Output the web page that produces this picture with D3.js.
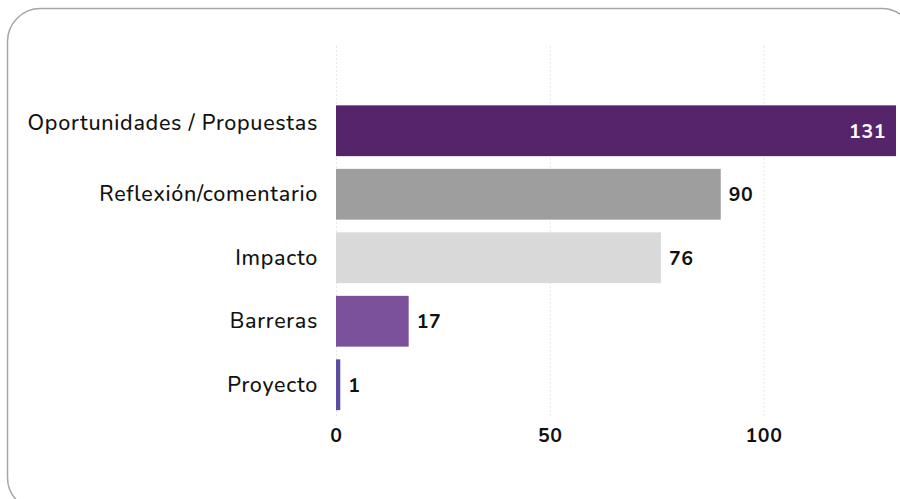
<!DOCTYPE html>
<html>
<head>
<meta charset="utf-8">
<script src="https://cdn.jsdelivr.net/npm/d3@7"></script>
<style>
  body { margin: 0; background: #fff; }
  svg { display: block; font-family: "Nunito", "Open Sans", sans-serif; }
</style>
</head>
<body>
<svg id="chart" width="900" height="499"></svg>
<script>
// data
const categories = ["Oportunidades / Propuestas", "Reflexión/comentario", "Impacto", "Barreras", "Proyecto"];
const values = [131, 90, 76, 17, 1];
const colors = ["#56246b", "#9e9e9e", "#d9d9d9", "#7b519c", "#5b4ea2"];
const xTicks = [0, 50, 100];

const font = "\"Nunito\", \"Open Sans\", sans-serif";
const svg = d3.select("#chart");

// rounded frame
svg.append("rect")
    .attr("x", 7.5)
    .attr("y", 8.5)
    .attr("width", 907)
    .attr("height", 502)
    .attr("rx", 33)
    .attr("fill", "none")
    .attr("stroke", "#a6a6a6")
    .attr("stroke-width", 1.5);

const x = d3.scaleLinear()
    .domain([0, 131])
    .range([336, 896]);

const y = d3.scaleBand()
    .domain(categories)
    .range([99, 416.5])
    .paddingInner(0.2)
    .paddingOuter(0.1);

// gridlines
svg.append("g")
    .selectAll("line")
    .data(xTicks)
    .enter()
    .append("line")
    .attr("x1", d => x(d) + 0.5)
    .attr("x2", d => x(d) + 0.5)
    .attr("y1", 46)
    .attr("y2", 418)
    .attr("stroke", "#e6e6e6")
    .attr("stroke-width", 1)
    .attr("stroke-dasharray", "2,2");

// bars
svg.append("g")
    .selectAll("rect")
    .data(values)
    .enter()
    .append("rect")
    .attr("x", x(0))
    .attr("y", (d, i) => y(categories[i]))
    .attr("width", d => x(d) - x(0))
    .attr("height", y.bandwidth())
    .attr("fill", (d, i) => colors[i]);

// value labels
svg.append("g")
    .selectAll("text")
    .data(values)
    .enter()
    .append("text")
    .attr("x", (d, i) => i === 0 ? x(d) - 10 : x(d) + 8)
    .attr("y", (d, i) => y(categories[i]) + y.bandwidth() / 2)
    .attr("dy", "0.36em")
    .attr("text-anchor", (d, i) => i === 0 ? "end" : "start")
    .attr("font-size", 19.5)
    .attr("font-weight", "bold")
    .attr("letter-spacing", 0.6)
    .attr("fill", (d, i) => i === 0 ? "#fff" : "#111")
    .style("font-family", font)
    .text(d => d);

// y axis labels
const yAxis = svg.append("g")
    .attr("transform", "translate(" + x(0) + ",0)")
    .call(d3.axisLeft(y).tickSize(0).tickPadding(18));
yAxis.select(".domain").remove();
yAxis.selectAll("text")
    .attr("font-size", 21.5)
    .attr("font-weight", 500)
    .attr("letter-spacing", 0.7)
    .attr("fill", "#111")
    .style("font-family", font);
// the first label sits a little above its bar in the original
yAxis.selectAll(".tick text")
    .filter((d, i) => i === 0)
    .attr("dy", "-0.05em");

// x axis labels
const xAxis = svg.append("g")
    .attr("transform", "translate(0,426)")
    .call(d3.axisBottom(x).tickValues(xTicks).tickSize(0).tickPadding(2));
xAxis.select(".domain").remove();
xAxis.selectAll("text")
    .attr("font-size", 19.5)
    .attr("font-weight", "bold")
    .attr("letter-spacing", 0.6)
    .attr("fill", "#111")
    .style("font-family", font);
</script>
</body>
</html>
